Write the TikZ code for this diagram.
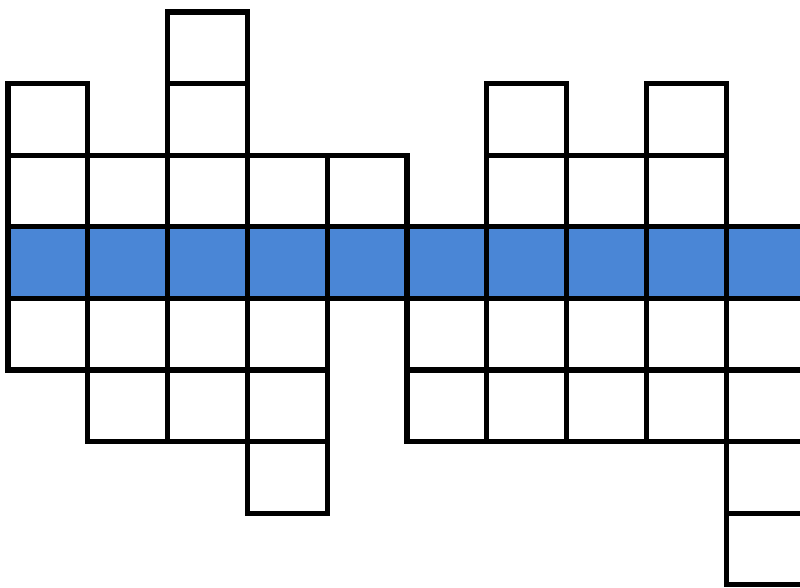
\documentclass[tikz,border=0pt]{standalone}
\definecolor{band}{HTML}{4A86D6}
\begin{document}
\begin{tikzpicture}[
  x=0.025cm, y=-0.025cm,
  cell/.style={draw=black, line width=3.6pt, fill=white, inner sep=0pt, outer sep=0pt,
    minimum width=1.995cm, minimum height=1.79cm},
  bandcell/.style={cell, fill=band},
]
\useasboundingbox (0,0) rectangle (800,587);
\clip (0,0) rectangle (800,587);

% ---------- white cells (column/row) ----------
\foreach \c/\r in {0/1,0/2,0/4,
                   1/2,1/4,1/5,
                   2/0,2/1,2/2,2/4,2/5,
                   3/2,3/4,3/5,3/6,
                   4/2,
                   5/4,5/5,
                   6/1,6/2,6/4,6/5,
                   7/2,7/4,7/5,
                   8/1,8/2,8/4,8/5,
                   9/4,9/5,9/6,9/7}
  \node[cell] (c\c r\r) at ({8+79.8*(\c+0.5)},{12+71.6*(\r+0.5)}) {};

% ---------- blue band (row 3) ----------
\foreach \c in {0,...,9}
  \node[bandcell] (c\c r3) at ({8+79.8*(\c+0.5)},{12+71.6*3.5}) {};

\end{tikzpicture}
\end{document}
